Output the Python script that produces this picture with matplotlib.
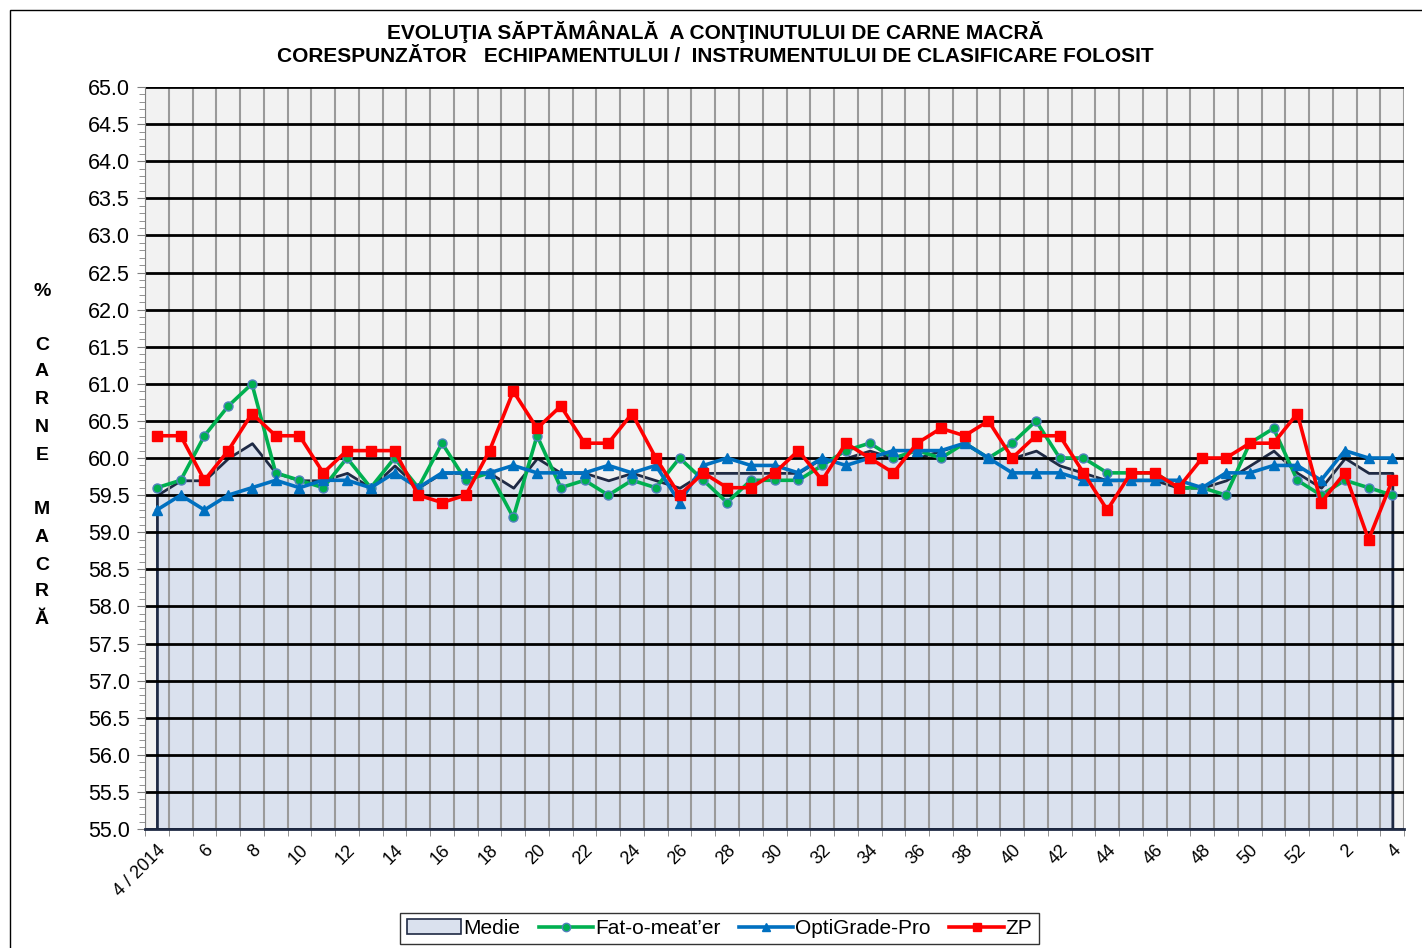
import numpy as np
import pandas as pd
import matplotlib
matplotlib.use("Agg")
import matplotlib.pyplot as plt
from matplotlib.patches import Patch, Rectangle
from matplotlib.lines import Line2D

plt.rcParams['font.family'] = ['Liberation Sans', 'DejaVu Sans']

weeks = ['4 / 2014'] + [str(w) for w in range(5, 53)] + ['1', '2', '3', '4']

medie = [59.5, 59.7, 59.7, 60.0, 60.2, 59.8, 59.7, 59.7, 59.8, 59.6, 59.9, 59.6, 59.8,
         59.8, 59.8, 59.6, 60.0, 59.8, 59.8, 59.7, 59.8, 59.7, 59.6, 59.8, 59.8, 59.8,
         59.8, 59.8, 60.0, 60.0, 60.1, 60.0, 60.0, 60.1, 60.2, 60.0, 60.0, 60.1, 59.9,
         59.8, 59.7, 59.7, 59.7, 59.6, 59.6, 59.7, 59.9, 60.1, 59.8, 59.6, 60.0, 59.8, 59.8]

fat_o_meater = [59.6, 59.7, 60.3, 60.7, 61.0, 59.8, 59.7, 59.6, 60.0, 59.6, 60.0, 59.6, 60.2,
                59.7, 59.8, 59.2, 60.3, 59.6, 59.7, 59.5, 59.7, 59.6, 60.0, 59.7, 59.4, 59.7,
                59.7, 59.7, 59.9, 60.1, 60.2, 60.0, 60.1, 60.0, 60.2, 60.0, 60.2, 60.5, 60.0,
                60.0, 59.8, 59.8, 59.8, 59.6, 59.6, 59.5, 60.2, 60.4, 59.7, 59.5, 59.7, 59.6, 59.5]

optigrade = [59.3, 59.5, 59.3, 59.5, 59.6, 59.7, 59.6, 59.7, 59.7, 59.6, 59.8, 59.6, 59.8,
             59.8, 59.8, 59.9, 59.8, 59.8, 59.8, 59.9, 59.8, 59.9, 59.4, 59.9, 60.0, 59.9,
             59.9, 59.8, 60.0, 59.9, 60.0, 60.1, 60.1, 60.1, 60.2, 60.0, 59.8, 59.8, 59.8,
             59.7, 59.7, 59.7, 59.7, 59.7, 59.6, 59.8, 59.8, 59.9, 59.9, 59.7, 60.1, 60.0, 60.0]

zp = [60.3, 60.3, 59.7, 60.1, 60.6, 60.3, 60.3, 59.8, 60.1, 60.1, 60.1, 59.5, 59.4,
      59.5, 60.1, 60.9, 60.4, 60.7, 60.2, 60.2, 60.6, 60.0, 59.5, 59.8, 59.6, 59.6,
      59.8, 60.1, 59.7, 60.2, 60.0, 59.8, 60.2, 60.4, 60.3, 60.5, 60.0, 60.3, 60.3,
      59.8, 59.3, 59.8, 59.8, 59.6, 60.0, 60.0, 60.2, 60.2, 60.6, 59.4, 59.8, 58.9, 59.7]

df = pd.DataFrame({'week': weeks, 'medie': medie, 'fat': fat_o_meater,
                   'opti': optigrade, 'zp': zp})
x = np.arange(len(df))

fig = plt.figure(figsize=(14.22, 9.48), dpi=100)
ax = fig.add_axes([0.102, 0.1255, 0.8855, 0.7827])
ax.set_facecolor('#F2F2F2')

navy = '#1F2A44'

# area for the average
ax.fill_between(x, df['medie'], 55, facecolor='#DAE1EE', edgecolor=navy,
                linewidth=2, zorder=1)

# grid
for v in np.arange(55.0, 65.01, 0.5):
    ax.axhline(v, color='black', lw=2, zorder=1.6)
for b in np.arange(-0.5, len(df), 1.0):
    ax.axvline(b, color='#9A9A9A', lw=1.5, zorder=1.5)

ax.plot(x, df['fat'], color='#00B050', lw=2.6, marker='o', ms=6.5,
        mfc='#00B050', mec='#4F81BD', mew=1, zorder=3)
ax.plot(x, df['opti'], color='#0070C0', lw=2.6, marker='^', ms=7,
        mfc='#0070C0', mec='#0070C0', zorder=3.1)
ax.plot(x, df['zp'], color='#FF0000', lw=2.6, marker='s', ms=7,
        mfc='#FF0000', mec='#FF0000', zorder=3.2)

ax.set_xlim(-0.5, len(df) - 0.5)
ax.set_ylim(55, 65)

ax.set_yticks(np.arange(55, 65.01, 0.5))
ax.set_yticklabels(['%.1f' % v for v in np.arange(55, 65.01, 0.5)], fontsize=15.5)
ax.set_yticks(np.arange(55, 65.01, 0.1), minor=True)
ax.tick_params(axis='y', which='major', length=6, color='#808080', pad=5)
ax.tick_params(axis='y', which='minor', length=4, color='#808080')

ax.set_xticks(np.arange(-0.5, len(df), 1.0), minor=True)
ax.set_xticks(x[::2])
ax.set_xticklabels(df['week'][::2], rotation=45, ha='right', va='top',
                   rotation_mode='anchor', fontsize=13)
ax.tick_params(axis='x', which='major', length=0, pad=9)
ax.tick_params(axis='x', which='minor', length=5, color='#808080')

for s in ['top', 'right']:
    ax.spines[s].set_visible(False)
ax.spines['left'].set_color('#808080')
ax.spines['bottom'].set_color(navy)
ax.spines['bottom'].set_linewidth(2)

fig.text(0.503, 0.967, 'EVOLUŢIA SĂPTĂMÂNALĂ  A CONŢINUTULUI DE CARNE MACRĂ',
         ha='center', va='center', fontsize=15, fontweight='bold')
fig.text(0.503, 0.940, 'CORESPUNZĂTOR   ECHIPAMENTULUI /  INSTRUMENTULUI DE CLASIFICARE FOLOSIT',
         ha='center', va='center', fontsize=15, fontweight='bold')

# vertical y label, one letter per line
letters = ['%', 'C', 'A', 'R', 'N', 'E', 'M', 'A', 'C', 'R', 'Ă']
ypix = [292, 345, 372, 399, 427, 456, 510, 537, 565, 592, 620]
for l, yp in zip(letters, ypix):
    fig.text(42 / 1422, 1 - yp / 948, l, ha='center', va='center',
             fontsize=14, fontweight='bold')

handles = [Patch(facecolor='#DAE1EE', edgecolor=navy, lw=1.2),
           Line2D([], [], color='#00B050', lw=2.6, marker='o', ms=6,
                  mfc='#00B050', mec='#4F81BD'),
           Line2D([], [], color='#0070C0', lw=2.6, marker='^', ms=6),
           Line2D([], [], color='#FF0000', lw=2.6, marker='s', ms=6)]
leg = fig.legend(handles, ['Medie', 'Fat-o-meat’er', 'OptiGrade-Pro', 'ZP'],
                 loc='center', bbox_to_anchor=(0.506, 0.0205), ncol=4,
                 fontsize=15, frameon=True, fancybox=False, handlelength=2.6,
                 handletextpad=0.1, columnspacing=0.9, borderpad=0.3)
leg.get_frame().set_edgecolor('black')
leg.get_frame().set_linewidth(1)

# outer chart border
fig.add_artist(Rectangle((10 / 1422, -0.05), 1.2, 1.05 - 10 / 948,
                         transform=fig.transFigure, fill=False,
                         edgecolor='black', lw=1))

fig.savefig('out.png', dpi=100)
